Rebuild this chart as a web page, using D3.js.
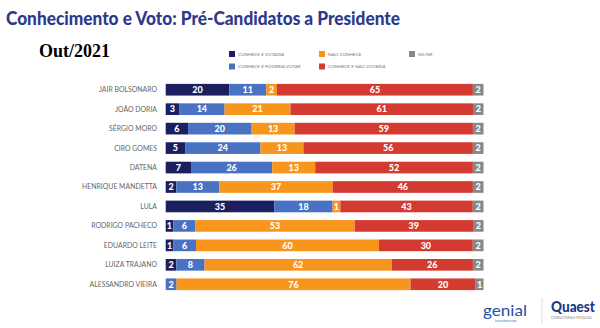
<!DOCTYPE html>
<html lang="pt">
<head>
  <meta charset="UTF-8">
  <title>Conhecimento e Voto</title>
  <script src="https://d3js.org/d3.v7.min.js"></script>
  <style>
    body { margin: 0; background: #fff; }
    svg { display: block; }
  </style>
</head>
<body>
  <div id="chart"></div>
  <script>
    // dados
    const candidatos = ["JAIR BOLSONARO", "JOÃO DORIA", "SÉRGIO MORO", "CIRO GOMES", "DATENA",
      "HENRIQUE MANDETTA", "LULA", "RODRIGO PACHECO", "EDUARDO LEITE", "LUIZA TRAJANO", "ALESSANDRO VIEIRA"];
    const categorias = ["CONHECE E VOTARIA", "CONHECE E PODERIA VOTAR", "NÃO CONHECE", "CONHECE E NÃO VOTARIA", "NS/NR"];
    const conheceVotaria = [20, 3, 6, 5, 7, 2, 35, 1, 1, 2, 0];
    const poderiaVotar = [11, 14, 20, 24, 26, 13, 18, 6, 6, 8, 2];
    const naoConhece = [2, 21, 13, 13, 13, 37, 1, 53, 60, 62, 76];
    const naoVotaria = [65, 61, 59, 56, 52, 46, 43, 39, 30, 26, 20];
    const nsnr = [2, 2, 2, 2, 2, 2, 2, 2, 2, 2, 1];
    const cores = ["#1c1f5f", "#4a72c2", "#f7951d", "#d43b30", "#888888"];

    const series = [conheceVotaria, poderiaVotar, naoConhece, naoVotaria, nsnr];
    // no original os segmentos pequenos ganham uma largura mínima
    const folga = 1.6;
    const rows = candidatos.map((c, i) => {
      const r = { nome: c, raw: {} };
      categorias.forEach((k, j) => {
        const v = series[j][i];
        r.raw[k] = v;
        r[k] = v > 0 ? v + folga : 0;
      });
      return r;
    });

    const width = 600, height = 328;
    const svg = d3.select("#chart").append("svg")
      .attr("width", width).attr("height", height);

    // título
    svg.append("text")
      .attr("x", 6).attr("y", 24.5)
      .attr("fill", "#2d3a8a")
      .attr("font-family", "Lato, 'Open Sans', sans-serif")
      .attr("font-weight", 900)
      .attr("font-size", 18.5)
      .attr("textLength", 394)
      .attr("lengthAdjust", "spacingAndGlyphs")
      .text("Conhecimento e Voto: Pré-Candidatos a Presidente");

    svg.append("text")
      .attr("x", 39).attr("y", 56.5)
      .attr("fill", "#000")
      .attr("font-family", "'Liberation Serif', 'DejaVu Serif', serif")
      .attr("font-weight", 700)
      .attr("font-size", 18)
      .text("Out/2021");

    // legenda
    const legPos = [[232, 54], [232, 66.5], [322, 54], [322, 66.5], [412, 54]];
    const leg = svg.append("g").selectAll("g")
      .data(categorias)
      .join("g")
      .attr("transform", (d, i) => `translate(${legPos[i][0]},${legPos[i][1]})`);
    leg.append("rect")
      .attr("x", -3).attr("y", -3).attr("width", 6).attr("height", 6)
      .attr("fill", (d, i) => cores[i]);
    leg.append("text")
      .attr("x", 6).attr("dy", "0.35em")
      .attr("font-family", "Lato, sans-serif")
      .attr("font-size", 4.6)
      .attr("fill", "#777")
      .text(d => d);

    // escalas
    const x = d3.scaleLinear().domain([0, 1]).range([165.7, 483.5]);
    const y = d3.scaleBand().domain(candidatos).range([80, 294]).paddingInner(0.4).paddingOuter(0.2);

    const stack = d3.stack().keys(categorias).offset(d3.stackOffsetExpand);
    const stacked = stack(rows);

    // nomes
    svg.append("g").selectAll("text")
      .data(candidatos)
      .join("text")
      .attr("x", 157)
      .attr("y", d => y(d) + y.bandwidth() / 2)
      .attr("dy", "0.35em")
      .attr("text-anchor", "end")
      .attr("font-family", "Lato, sans-serif")
      .attr("font-size", 6.9)
      .attr("fill", "#666")
      .text(d => d);

    const layers = svg.append("g").selectAll("g")
      .data(stacked)
      .join("g")
      .attr("fill", (d, i) => cores[i]);

    layers.selectAll("rect")
      .data(d => d.filter(s => s.data.raw[d.key] > 0))
      .join("rect")
      .attr("x", d => x(d[0]))
      .attr("y", d => y(d.data.nome))
      .attr("width", d => x(d[1]) - x(d[0]))
      .attr("height", y.bandwidth());

    // valores
    const vals = svg.append("g").selectAll("g")
      .data(stacked)
      .join("g");
    vals.each(function (layer) {
      d3.select(this).selectAll("text")
        .data(layer.filter(s => s.data.raw[layer.key] > 0))
        .join("text")
        .attr("x", d => (x(d[0]) + x(d[1])) / 2)
        .attr("y", d => y(d.data.nome) + y.bandwidth() / 2)
        .attr("dy", "0.36em")
        .attr("text-anchor", "middle")
        .attr("font-family", "Lato, sans-serif")
        .attr("font-weight", 900)
        .attr("font-size", 9)
        .attr("fill", "#fff")
        .text(d => d.data.raw[layer.key]);
    });

    // logos
    svg.append("text")
      .attr("x", 483).attr("y", 316)
      .attr("fill", "#2452a8")
      .attr("font-family", "Lato, sans-serif")
      .attr("font-size", 16)
      .attr("textLength", 44)
      .attr("lengthAdjust", "spacingAndGlyphs")
      .text("genial");
    svg.append("text")
      .attr("x", 495).attr("y", 322)
      .attr("fill", "#4a72c2")
      .attr("font-family", "Lato, sans-serif")
      .attr("font-size", 3.5)
      .text("investimentos");
    svg.append("line")
      .attr("x1", 542).attr("x2", 542).attr("y1", 298).attr("y2", 324)
      .attr("stroke", "#ddd");
    svg.append("text")
      .attr("x", 551).attr("y", 312)
      .attr("fill", "#1e3a8a")
      .attr("font-family", "Lato, sans-serif")
      .attr("font-weight", 900)
      .attr("font-size", 15)
      .attr("textLength", 44)
      .attr("lengthAdjust", "spacingAndGlyphs")
      .text("Quaest");
    svg.append("text")
      .attr("x", 551).attr("y", 319)
      .attr("fill", "#888")
      .attr("font-family", "Lato, sans-serif")
      .attr("font-size", 3.2)
      .text("CONSULTORIA E PESQUISA");
  </script>
</body>
</html>
